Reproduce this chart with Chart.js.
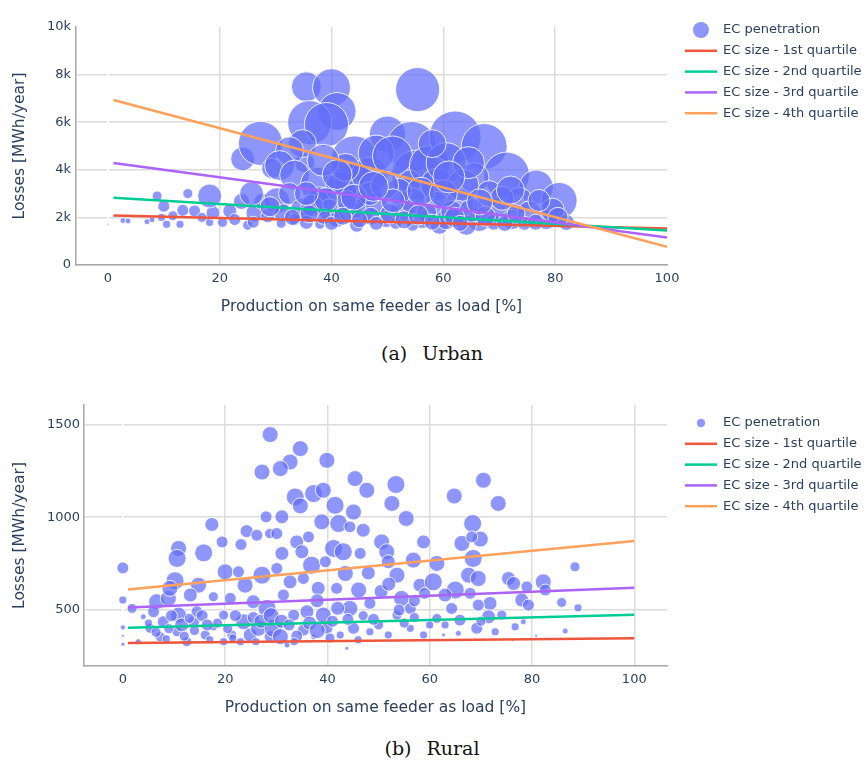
<!DOCTYPE html>
<html>
<head>
<meta charset="utf-8">
<script src="https://cdn.jsdelivr.net/npm/chart.js@4.4.1/dist/chart.umd.min.js"></script>
<style>
  body { margin: 0; background: #fff; width: 864px; height: 767px; position: relative; overflow: hidden; }
  canvas { position: absolute; left: 0; }
  #urban { top: 0; }
  #rural { top: 392px; }
  .cap { position: absolute; left: 0; width: 864px; text-align: center; line-height: 22px; word-spacing: 9px;
         font-family: "DejaVu Serif", "Liberation Serif", serif; font-size: 19px; color: #111; }
</style>
</head>
<body>
<canvas id="urban" width="864" height="330"></canvas>
<div class="cap" style="top:342px">(a) Urban</div>
<canvas id="rural" width="864" height="340"></canvas>
<div class="cap" style="top:737px">(b) Rural</div>

<script>
// ---- Urban feeders: share of production on same feeder (%), losses (MWh/year), EC penetration
const urbanShare = [
  0, 2.7, 3.6, 7, 7.9, 9.6, 10.5, 11.6, 12.9, 13.4, 15.5, 16.8, 18.2, 18.8, 20.5, 21.8, 22.7, 23.9, 25, 26.3,
  27.5, 28.6, 8.8, 10, 14.3, 18.2, 25.7, 24.1, 27.3, 29.3,
  35.5, 40, 41, 36.1, 39.1, 55.4, 50, 54.3, 44.1, 44.6, 55.2, 53.9, 35.2, 34.8, 32.5, 30.7, 33.4, 37.5, 37.9, 41.8,
  46.8, 48, 50.9, 57.5, 58.8, 30.2, 32.5, 31.3, 34.8, 35.5, 39.6, 40.9, 43.2, 45.5, 44.5, 48, 49.8, 52.7, 54.5, 56.3,
  58.8, 59.3, 37.9, 33.4, 42.7, 46.8, 54.5,
  62.1, 67.3, 71.3, 76.6, 80.7, 65.5, 62.9, 60.5, 73.6, 70, 72.3, 78.4, 79.5, 82, 66.4, 64.1, 60.5, 68.2, 75.4, 77.1,
  31, 38.5, 47, 51.5, 57, 61.5, 65, 69, 74.5, 29, 36.5, 52, 63.5, 70.5, 49.5, 42.5, 38.5, 58, 64.5,
  26, 33, 36, 40, 42, 45, 48, 50.5, 53, 55.5, 58, 62, 63, 67.5, 71, 73, 76.5, 80.5,
  39, 44, 51, 56, 60, 66.5, 72, 61, 47.5, 35.5, 41
];
const urbanLoss = [
  1710, 1870, 1850, 1820, 1900, 2000, 1710, 2070, 1710, 2300, 2270, 2000, 1790, 2190, 1790, 2270, 1910, 2670, 1670, 2190,
  2670, 2070, 2900, 2470, 3000, 2900, 3000, 4460, 5110, 4060,
  7490, 7450, 6450, 5980, 5900, 7370, 5500, 4980, 4460, 3390, 3780, 3500, 4300, 5100, 4800, 4180, 3780, 3390, 2700, 3270,
  3780, 4700, 4580, 4180, 3390, 2700, 3000, 2190, 2310, 1790, 2310, 1910, 2310, 2310, 1670, 2590, 1910, 2310, 2700, 1910,
  2590, 1670, 1710, 1910, 2700, 3000, 1670,
  5380, 4980, 3780, 3270, 2710, 3670, 2590, 4300, 2710, 2310, 1910, 1910, 2310, 1790, 1910, 1670, 1910, 3000, 2190, 2710,
  1750, 2050, 2050, 1750, 2200, 2250, 2300, 1800, 1750, 2450, 2500, 3100, 3350, 2800, 3350, 4100, 4400, 5100, 4300,
  1800, 2000, 2150, 1750, 2050, 1900, 1750, 2150, 1900, 2100, 1800, 2000, 1750, 2050, 1750, 2150, 1800, 2000,
  2750, 2850, 2700, 3100, 3000, 2650, 3150, 3700, 3300, 3000, 3800
];
const urbanPen = [
  0.15, 1.3, 1.3, 1.3, 1.3, 2.4, 2.4, 3.7, 2.4, 5.3, 5.3, 3.7, 2.4, 7.2, 3.7, 7.2, 5.3, 9.5, 3.7, 12,
  9.5, 7.2, 3.7, 5.3, 3.7, 21, 21, 21, 72, 15,
  33, 53, 53, 72, 72, 72, 48, 92, 78, 78, 92, 21, 15, 29, 29, 33, 33, 43, 29, 38,
  48, 48, 59, 59, 38, 25, 18, 12, 21, 7.2, 18, 9.5, 21, 21, 7.2, 18, 9.5, 21, 25, 12,
  21, 12, 3.7, 5.3, 15, 21, 5.3,
  100, 78, 78, 43, 48, 33, 29, 59, 25, 21, 15, 15, 21, 9.5, 21, 15, 15, 25, 21, 18,
  3.7, 9.5, 12, 5.3, 15, 18, 21, 9.5, 7.2, 15, 18, 25, 38, 21, 29, 29, 38, 29, 38,
  5.3, 9.5, 12, 7.2, 12, 9.5, 7.2, 15, 12, 15, 9.5, 15, 9.5, 15, 9.5, 12, 9.5, 15,
  21, 25, 21, 29, 29, 25, 29, 38, 33, 21, 33
];

// ---- Rural feeders
const ruralShare = [
  28.8, 27.2, 17.4, 24.2, 26.2, 28, 28.7, 19.4, 23.1, 15.8, 10.9, 10.6, 0, 0, 10.2, 14.8, 20, 22.6, 27.2, 23.9,
  6.6, 8.9, 10.9, 13.2, 1.8, 0, 0, 0, 4, 5.3, 7.9, 7.3, 10.6, 12.5, 13.8, 16.1, 17.7, 19.7, 21.3, 23.6,
  24.9, 26.5, 28.2, 28.8, 25.5, 21, 17.7, 9.2, 6, 14.5, 19.7,
  34.7, 32.7, 30.8, 39.9, 45.4, 47.7, 53.4, 52.6, 55.4, 33.7, 34.7, 37.3, 39.2, 41.5, 45.1, 31.1, 38.9, 42.2, 47, 44.4,
  30.1, 34, 36.3, 41.2, 43.1, 46.4, 31.1, 35, 50.6, 51.6, 51.9, 53.6, 56.8, 58.8, 36.9, 39.6, 43.5, 46.1, 30.1, 32.7,
  35.3, 38.2, 31.4, 41.8, 44.4, 48.3, 54.5, 58.1, 56.2, 33.4, 36, 39.2, 29.4, 30.8, 35.3, 39.9, 42.5, 45.1, 48.3, 51.9,
  53.6, 56.2, 58.8, 37.3, 32.1, 43.8,
  70.5, 64.8, 73.4, 68.4, 66.3, 69.9, 68.2, 68.5, 61.4, 67.6, 69.5, 75.4, 76.4, 82.2, 82.6, 79, 78, 79.3, 88.4, 85.8,
  89, 86.5, 65, 60.7, 63, 71.8, 69.5, 67.9, 74.1, 71.5, 69.2, 65.9, 64.3, 61.4, 76.7, 72.8, 78.3, 65.6, 80.8, 62.7, 76.2,
  5, 6.5, 8.5, 9.5, 11.5, 12, 14, 15.5, 17, 18.5, 20.5, 22, 23, 25.5, 27, 29, 31, 32.5, 34, 36.5,
  38, 41, 42, 44, 47, 50, 50.5, 52, 54, 57, 59, 60,
  3, 9, 13, 16.5, 21.5, 26, 33.5, 40.5, 46, 49, 55, 63, 70, 38, 48, 57
];
const ruralLoss = [
  1445, 1243, 961, 925, 903, 1002, 912, 867, 853, 808, 832, 778, 727, 554, 658, 634, 706, 706, 688, 634,
  545, 563, 473, 581, 509, 407, 362, 316, 464, 402, 437, 357, 383, 330, 437, 366, 410, 330, 366, 437,
  366, 402, 509, 357, 545, 563, 572, 617, 491, 491, 473,
  1369, 1297, 1262, 1306, 1208, 1145, 1176, 1074, 993, 1109, 1061, 1127, 1145, 1064, 1028, 1002, 975, 966, 930, 948,
  912, 867, 894, 832, 814, 805, 805, 814, 867, 814, 760, 688, 769, 867, 742, 760, 697, 608, 724, 652,
  670, 617, 581, 617, 509, 536, 563, 634, 509, 473, 491, 473, 402, 357, 392, 402, 366, 402, 383, 366,
  473, 402, 366, 357, 312, 294,
  1199, 1114, 1074, 966, 859, 882, 894, 778, 751, 688, 670, 670, 643, 652, 608, 625, 554, 527, 733, 541,
  512, 387, 608, 652, 581, 536, 527, 590, 473, 464, 402, 446, 509, 455, 410, 383, 437, 375, 362, 366, 339,
  430, 380, 345, 470, 420, 360, 390, 470, 340, 430, 400, 470, 330, 460, 440, 470, 440, 420, 360, 430,
  390, 440, 510, 450, 470, 420, 600, 640, 500, 460, 590, 420,
  330, 400, 455, 420, 350, 330, 330, 350, 340, 450, 430, 420, 440, 550, 700, 550
];
const ruralPen = [
  79, 79, 60, 52, 44, 44, 31, 44, 44, 100, 79, 100, 44, 20, 100, 79, 79, 44, 100, 79,
  79, 79, 79, 60, 31, 8, 3, 5, 11, 31, 44, 31, 31, 31, 44, 31, 20, 20, 31, 79,
  60, 79, 100, 44, 60, 44, 31, 79, 44, 44, 31,
  79, 79, 79, 79, 79, 79, 100, 79, 79, 100, 79, 100, 79, 100, 79, 60, 79, 100, 60, 44,
  44, 60, 44, 100, 100, 44, 60, 60, 79, 79, 60, 79, 79, 60, 100, 44, 79, 79, 44, 60,
  44, 60, 44, 44, 79, 44, 79, 60, 44, 44, 60, 79, 100, 79, 44, 44, 20, 44, 20, 20,
  31, 20, 20, 11, 11, 5,
  79, 79, 79, 100, 79, 79, 44, 100, 79, 79, 79, 60, 60, 79, 44, 44, 60, 44, 31, 31,
  20, 11, 100, 100, 60, 60, 44, 44, 31, 60, 44, 44, 44, 31, 20, 20, 11, 11, 3, 5, 3,
  20, 31, 20, 44, 60, 31, 31, 44, 20, 31, 31, 44, 20, 44, 60, 79, 60, 44, 44, 60,
  79, 44, 60, 44, 31, 31, 60, 60, 44, 31, 44, 20,
  11, 31, 31, 44, 20, 20, 20, 31, 20, 44, 31, 20, 31, 60, 60, 44
];

// ---- Quartile trend lines, evaluated at the ends of the share range
const trendShare = [1, 100];
const urbanQ1 = [2080, 1530];
const urbanQ2 = [2830, 1450];
const urbanQ3 = [4290, 1160];
const urbanQ4 = [6930, 760];
const ruralQ1 = [323, 349];
const ruralQ2 = [405, 475];
const ruralQ3 = [514, 620];
const ruralQ4 = [611, 872];

// ---- Axis ticks
const shareTicks = [0, 20, 40, 60, 80, 100];
const urbanLossTicks = [0, 2000, 4000, 6000, 8000, 10000];
const ruralLossTicks = [500, 1000, 1500];

const legendLabels = ['EC penetration', 'EC size - 1st quartile', 'EC size - 2nd quartile',
                      'EC size - 3rd quartile', 'EC size - 4th quartile'];
const quartileColors = ['#EF553B', '#00CC96', '#AB63FA', '#FFA15A'];
const bubbleFill = 'rgba(99, 110, 250, 0.72)';
const textColor = '#2a3f5f';
const gridColor = '#dcdcdc';
const axisColor = '#a8a8a8';

Chart.defaults.font.family = '"DejaVu Sans", Verdana, sans-serif';
Chart.defaults.color = textColor;

function sideLegend(top, step, dotR) {
  return {
    id: 'sideLegend',
    afterDraw(chart) {
      const ctx = chart.ctx;
      ctx.save();
      ctx.font = '13px "DejaVu Sans", Verdana, sans-serif';
      ctx.textBaseline = 'middle';
      legendLabels.forEach((label, i) => {
        const y = top + i * step;
        if (i === 0) {
          ctx.beginPath();
          ctx.arc(701, y, dotR, 0, Math.PI * 2);
          ctx.fillStyle = bubbleFill;
          ctx.fill();
        } else {
          ctx.beginPath();
          ctx.moveTo(685, y);
          ctx.lineTo(717, y);
          ctx.strokeStyle = quartileColors[i - 1];
          ctx.lineWidth = 2.5;
          ctx.stroke();
        }
        ctx.fillStyle = textColor;
        ctx.fillText(label, 723, y);
      });
      ctx.restore();
    }
  };
}

function makeChart(id, cfg) {
  const bubbles = cfg.share.map((x, i) => ({ x: x, y: cfg.loss[i], r: cfg.k * Math.sqrt(cfg.pen[i]) }));
  const lines = cfg.quartiles.map((q, i) => ({
    type: 'line',
    data: trendShare.map((x, j) => ({ x: x, y: q[j] })),
    borderColor: quartileColors[i],
    borderWidth: 2.5,
    pointRadius: 0,
    order: 4 - i
  }));
  return new Chart(document.getElementById(id), {
    type: 'bubble',
    data: {
      datasets: [{
        data: bubbles,
        backgroundColor: bubbleFill,
        borderColor: 'rgba(255,255,255,0.85)',
        borderWidth: 1,
        order: 5
      }].concat(lines)
    },
    options: {
      responsive: false,
      animation: false,
      events: [],
      layout: { padding: { left: 0, right: 197, top: cfg.top, bottom: 0 } },
      plugins: { legend: { display: false }, tooltip: { enabled: false } },
      scales: {
        x: {
          type: 'linear',
          min: cfg.xMin, max: cfg.xMax,
          afterFit: s => { s.height = cfg.xAxisH; },
          afterBuildTicks: s => { s.ticks = shareTicks.map(v => ({ value: v })); },
          ticks: { font: { size: 13 }, padding: 6, maxRotation: 0 },
          grid: {
            drawTicks: false, z: -1,
            color: c => c.tick.value === 0 ? '#ffffff' : (c.tick.value >= cfg.xMax ? 'rgba(0,0,0,0)' : gridColor),
            lineWidth: c => c.tick.value === 0 ? 2 : 1.5
          },
          border: { color: axisColor, width: 1.5 },
          title: { display: true, text: 'Production on same feeder as load [%]', font: { size: 15.5 },
                   padding: { top: 0, bottom: cfg.xTitlePad } }
        },
        y: {
          type: 'linear',
          min: cfg.yMin, max: cfg.yMax,
          afterFit: s => { s.width = cfg.yAxisW; },
          afterBuildTicks: s => { s.ticks = cfg.yTicks.map(v => ({ value: v })); },
          ticks: { font: { size: 13 }, padding: cfg.yTickPad, callback: cfg.yFormat },
          grid: {
            drawTicks: false, z: -2,
            color: c => c.tick.value >= cfg.yMax ? 'rgba(0,0,0,0)' : gridColor,
            lineWidth: 1.5
          },
          border: { color: axisColor, width: 1.5 },
          title: { display: true, text: 'Losses [MWh/year]', font: { size: 15.5 },
                   padding: { top: 10.5, bottom: 0 } }
        }
      }
    },
    plugins: [sideLegend(cfg.legendTop, cfg.legendStep, cfg.dotR)]
  });
}

makeChart('urban', {
  share: urbanShare, loss: urbanLoss, pen: urbanPen, k: 2.6,
  quartiles: [urbanQ1, urbanQ2, urbanQ3, urbanQ4],
  xMin: -5.7, xMax: 100, yMin: 0, yMax: 10000,
  yTicks: urbanLossTicks,
  yFormat: v => v === 0 ? '0' : (v / 1000) + 'k',
  top: 14, xAxisH: 65, yAxisW: 76, yTickPad: 5, xTitlePad: 13.7,
  legendTop: 30, legendStep: 20.8, dotR: 8
});

makeChart('rural', {
  share: ruralShare, loss: ruralLoss, pen: ruralPen, k: 0.9,
  quartiles: [ruralQ1, ruralQ2, ruralQ3, ruralQ4],
  xMin: -7.6, xMax: 106.4, yMin: 199, yMax: 1604,
  yTicks: ruralLossTicks,
  yFormat: v => String(v),
  top: 13, xAxisH: 66, yAxisW: 84, yTickPad: 4, xTitlePad: 14.7,
  legendTop: 31, legendStep: 20.8, dotR: 4.2
});
</script>
</body>
</html>
